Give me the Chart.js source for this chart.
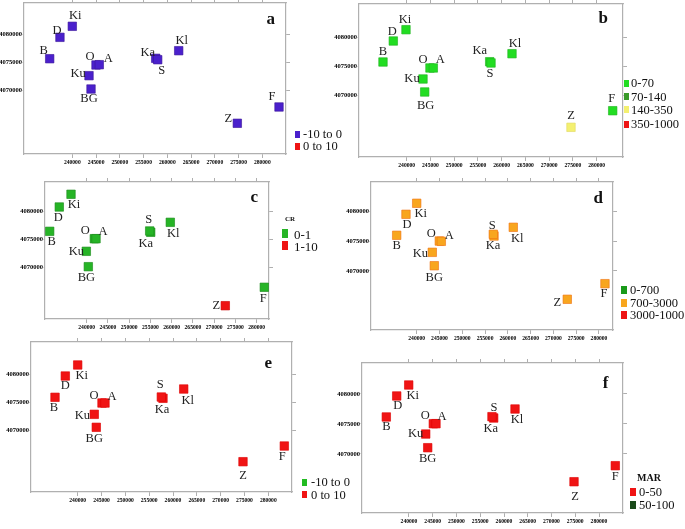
<!DOCTYPE html>
<html><head><meta charset="utf-8">
<script src="https://cdn.jsdelivr.net/npm/chart.js@4.4.1/dist/chart.umd.min.js"></script>
<style>
html,body{margin:0;padding:0;background:#fff}
#wrap{position:relative;width:685px;height:529px;overflow:hidden;background:#fff;font-family:'Liberation Serif','Times New Roman',serif;color:#111}
#wrap canvas{position:absolute}
.t{position:absolute;white-space:nowrap;line-height:1}
.m{position:absolute}
</style></head><body><div id="wrap"></div>
<script>
// ---------------- DATA ----------------
const stations = ['Ki','D','B','O','A','Ku','BG','Ka','S','Kl','F','Z'];
const xTickValues = [240000,245000,250000,255000,260000,265000,270000,275000,280000];
const yTickValues = [4070000,4075000,4080000];

// station coordinates
const xA = [240000,237400,235240,244990,245680,243520,243940,257560,257980,262400,283520,274740];
const yA = [4081430,4079460,4075640,4074520,4074570,4072610,4070230,4075710,4075460,4077070,4067020,4064110];
const xB = [239850,237180,235010,244900,245600,243430,243790,257470,257750,262170,283370,274590];
const yB = [4081380,4079430,4075810,4074780,4074780,4072880,4070640,4075860,4075640,4077240,4067410,4064550];
const xC = [236310,233550,231290,241790,242190,239910,240380,255060,254820,259670,281790,272610];
const yC = [4082970,4080710,4076390,4075080,4075080,4072840,4070110,4076220,4076450,4077990,4066450,4063180];
const xD = [240000,237650,235610,244960,245400,243420,243860,256960,256810,261190,281310,273040];
const yD = [4081420,4079560,4076020,4075060,4075010,4073150,4070890,4075900,4076190,4077370,4067860,4065230];
const xE = [240000,237400,235240,245100,245730,243480,243900,257900,257550,262250,283360,274690];
const yE = [4081610,4079640,4075840,4074820,4074820,4072800,4070480,4075660,4075890,4077320,4067140,4064340];
const xF = [239940,237410,235220,245120,245680,243520,243940,257830,257470,262320,283430,274740];
const yF = [4081500,4079670,4076170,4075050,4075050,4073330,4071050,4076000,4076220,4077500,4068050,4065380];

// class (legend index) of each station in each panel
const classA = [0,0,0,0,0,0,0,0,0,0,0,0];
const classB = [0,0,0,0,0,0,0,0,0,0,0,2];
const classC = [0,0,0,0,0,0,0,0,0,0,0,1];
const classD = [1,1,1,1,1,1,1,1,1,1,1,1];
const classE = [1,1,1,1,1,1,1,1,1,1,1,1];
const classF = [0,0,0,0,0,0,0,0,0,0,0,0];

const legendA = ['-10 to 0','0 to 10'];
const legendB = ['0-70','70-140','140-350','350-1000'];
const legendC = ['0-1','1-10'];
const legendD = ['0-700','700-3000','3000-1000'];
const legendE = ['-10 to 0','0 to 10'];
const legendF = ['0-50','50-100'];
const legendTitles = {c:'CR', f:'MAR'};
const panelLetters = ['a','b','c','d','e','f'];

// ---------------- STYLE / LAYOUT ----------------
const FONT = "'Liberation Serif','Times New Roman',serif";
const style = {
  a:{colors:['#4a20cc','#ee1414'], borders:['#3a1499','#c00']},
  b:{colors:['#22dd22','#3a9a2a','#f4f070','#ee1414'], borders:['#1fb01f','#2a7a2a','#e0d860','#c00']},
  c:{colors:['#26b426','#ee1414'], borders:['#1a8a1a','#c00']},
  d:{colors:['#1a9a1a','#f8a61e','#ee1414'], borders:['#117711','#f07010','#c00']},
  e:{colors:['#22bb22','#f01414'], borders:['#1a8a1a','#d00']},
  f:{colors:['#f01414','#1a4a1a'], borders:['#d00','#0a2a0a']}
};
const geom = {
  a:{l:24,t:3,r:286,b:154, x240:72.3,x280:262.3,y4080:34.3,y4070:90.3, letter:[270.7,18.3]},
  b:{l:359,t:4,r:623,b:157, x240:406.7,x280:596.7,y4080:37.7,y4070:95.7, letter:[603.3,17.3]},
  c:{l:45,t:182,r:269,b:319, x240:86.7,x280:256.7,y4080:211,y4070:267.3, letter:[254.3,196]},
  d:{l:371,t:182,r:613,b:330, x240:416.7,x280:599,y4080:211.7,y4070:271, letter:[598.3,196.7]},
  e:{l:31,t:342,r:292,b:492, x240:77.7,x280:268.3,y4080:374,y4070:430, letter:[268.3,361.7]},
  f:{l:362,t:363,r:623,b:513, x240:409,x280:599,y4080:394,y4070:454, letter:[605.7,382.3]}
};
const labelOffsets = {
  a:[[3,-11],[-3,-7],[-6,-8],[-6,-8],[9,-6],[-11,-2],[-2,10],[-8,-6],[4,11],[3,-10],[-7,-10],[-9,-5]],
  b:[[-1,-10],[-1,-9],[0,-10],[-7,-8],[7,-8],[-11,0],[1,14],[-10,-11],[-1,11],[3,-10],[-1,-12],[0,-12]],
  c:[[3,10],[-1,11],[2,10],[-9,-8],[7,-7],[-10,0],[-2,11],[-5,11],[-1,-11],[3,11],[-1,11],[-9,0]],
  d:[[4,10],[1,10],[0,10],[-8,-7],[8,-6],[-12,1],[0,12],[-1,10],[-1,-9],[4,11],[-1,10],[-10,3]],
  e:[[4,11],[0,10],[-1,10],[-8,-7],[7,-6],[-12,1],[-2,11],[-1,11],[-1,-12],[4,12],[-2,11],[0,14]],
  f:[[4,11],[1,10],[0,10],[-8,-8],[6,-7],[-10,0],[0,11],[-3,11],[2,-9],[2,11],[0,11],[1,15]]
};
const legendGeom = {
  a:{mx:295,tx:303,ys:[134,146],mw:5,mh:7,fs:12.5},
  b:{mx:624,tx:631,ys:[83,96.5,109.5,124],mw:5,mh:7,fs:12.5},
  c:{mx:282,tx:294,ys:[233.5,245.5],mw:6,mh:9,fs:13,title:[285,219,7]},
  d:{mx:621,tx:630,ys:[289.5,302.5,314.5],mw:6,mh:8,fs:12.5},
  e:{mx:302,tx:311,ys:[482,494.5],mw:5,mh:7,fs:12.5},
  f:{mx:630,tx:639,ys:[492,505],mw:6,mh:8,fs:12.5,title:[637,478,10]}
};

const panels = {
  a:{xs:xA,ys:yA,cls:classA,legend:legendA},
  b:{xs:xB,ys:yB,cls:classB,legend:legendB},
  c:{xs:xC,ys:yC,cls:classC,legend:legendC},
  d:{xs:xD,ys:yD,cls:classD,legend:legendD},
  e:{xs:xE,ys:yE,cls:classE,legend:legendE},
  f:{xs:xF,ys:yF,cls:classF,legend:legendF}
};

// ---------------- DRAW ----------------
const wrap = document.getElementById('wrap');

const stationLabels = {
  id:'stationLabels',
  afterDatasetsDraw(chart, args, opts){
    const ctx = chart.ctx, sx = chart.scales.x, sy = chart.scales.y;
    const data = chart.data.datasets[0].data;
    ctx.save();
    ctx.font = '12.5px ' + FONT;
    ctx.fillStyle = '#222';
    ctx.textAlign = 'center';
    ctx.textBaseline = 'middle';
    data.forEach((p,i)=>{
      const o = opts.offsets[i];
      ctx.fillText(p.name, sx.getPixelForValue(p.x)+o[0], sy.getPixelForValue(p.y)+o[1]);
    });
    ctx.restore();
  }
};

function addText(txt, x, y, css){
  const d = document.createElement('div');
  d.className = 't';
  d.textContent = txt;
  d.style.left = x+'px'; d.style.top = y+'px';
  Object.assign(d.style, css||{});
  wrap.appendChild(d);
  return d;
}

Object.keys(panels).forEach((key, idx)=>{
  const P = panels[key], G = geom[key], S = style[key];
  const cx = Math.round(G.l - 36), cy = Math.round(G.t - 6);
  const W = Math.round(G.r + 6) - cx, H = Math.round(G.b + 16) - cy;
  const leftW = G.l - cx, rightW = cx + W - G.r, topH = G.t - cy, botH = cy + H - G.b;
  const ux = 40000/(G.x280 - G.x240), uy = 10000/(G.y4070 - G.y4080);
  const xmin = 240000 + (G.l - G.x240)*ux, xmax = 240000 + (G.r - G.x240)*ux;
  const ymax = 4080000 + (G.y4080 - G.t)*uy, ymin = 4080000 - (G.b - G.y4080)*uy;

  const cv = document.createElement('canvas');
  cv.width = W; cv.height = H;
  cv.style.left = cx+'px'; cv.style.top = cy+'px';
  cv.style.width = W+'px'; cv.style.height = H+'px';
  wrap.appendChild(cv);

  const pts = stations.map((n,i)=>({x:P.xs[i], y:P.ys[i], name:n}));
  const gridOpt = {drawOnChartArea:false, drawTicks:true, tickLength:4, color:'#9a9a9a', lineWidth:0.8};
  const gridLeft = {drawOnChartArea:false, drawTicks:true, tickLength:1.5, color:'#9a9a9a', lineWidth:0.8};
  const borderOpt = {display:true, color:'#b0b0b0', width:1.2};
  const xTicks = s => { s.ticks = xTickValues.map(v=>({value:v})); };
  const yTicks = s => { s.ticks = yTickValues.map(v=>({value:v})); };

  new Chart(cv, {
    type:'scatter',
    data:{datasets:[{
      data:pts,
      pointStyle:'rect',
      pointRadius:6,
      backgroundColor:P.cls.map(c=>S.colors[c]),
      borderColor:P.cls.map(c=>S.borders[c]),
      borderWidth:0.6
    }]},
    options:{
      responsive:false, animation:false, devicePixelRatio:1, events:[],
      layout:{padding:0, autoPadding:false},
      plugins:{legend:{display:false}, tooltip:{enabled:false}, stationLabels:{offsets:labelOffsets[key]}},
      scales:{
        x:{type:'linear', position:'bottom', min:xmin, max:xmax, afterBuildTicks:xTicks,
           ticks:{autoSkip:false, maxRotation:0, color:'#000', padding:1, font:{family:FONT, size:5.6, weight:'bold'}, callback:v=>String(v)},
           grid:gridOpt, border:borderOpt, afterFit:s=>{s.height = botH;}},
        x2:{type:'linear', position:'top', min:xmin, max:xmax, afterBuildTicks:xTicks,
           ticks:{display:false}, grid:gridOpt, border:borderOpt, afterFit:s=>{s.height = topH;}},
        y:{type:'linear', position:'left', min:ymin, max:ymax, afterBuildTicks:yTicks,
           ticks:{color:'#000', padding:0.5, font:{family:FONT, size:6.5, weight:'bold'}, callback:v=>String(v)},
           grid:gridLeft, border:borderOpt, afterFit:s=>{s.width = leftW;}},
        y2:{type:'linear', position:'right', min:ymin, max:ymax, afterBuildTicks:yTicks,
           ticks:{display:false}, grid:gridOpt, border:borderOpt, afterFit:s=>{s.width = rightW;}}
      }
    },
    plugins:[stationLabels]
  });
});

// panel letters
Object.keys(geom).forEach((key,i)=>{
  const [lx,ly] = geom[key].letter;
  addText(panelLetters[i], lx, ly, {fontSize:'17px', fontWeight:'bold', transform:'translate(-50%,-50%)'});
});

// legends
Object.keys(panels).forEach(key=>{
  const L = legendGeom[key], S = style[key], labels = panels[key].legend;
  if (L.title) addText(legendTitles[key], L.title[0], L.title[1], {fontSize:L.title[2]+'px', fontWeight:'bold', transform:'translateY(-50%)'});
  labels.forEach((lab,i)=>{
    const m = document.createElement('div');
    m.className = 'm';
    m.style.left = L.mx+'px';
    m.style.top = (L.ys[i]-L.mh/2)+'px';
    m.style.width = L.mw+'px'; m.style.height = L.mh+'px';
    m.style.background = S.colors[i];
    wrap.appendChild(m);
    addText(lab, L.tx, L.ys[i], {fontSize:L.fs+'px', transform:'translateY(-50%)'});
  });
});
</script>
</body></html>
